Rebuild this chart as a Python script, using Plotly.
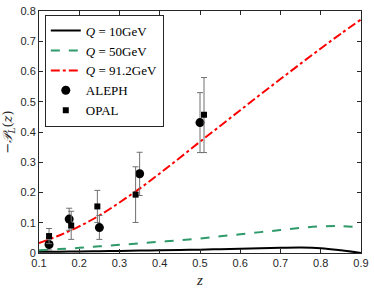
import plotly.graph_objects as go

z_curve = [0.1, 0.15, 0.2, 0.25, 0.3, 0.35, 0.4, 0.45, 0.5, 0.55, 0.6, 0.65, 0.7, 0.75, 0.8, 0.85, 0.9]
q10 = [0.004, 0.0045, 0.005, 0.006, 0.007, 0.008, 0.009, 0.010, 0.011, 0.0125, 0.014, 0.0155, 0.017, 0.018, 0.016, 0.009, 0.0]
q50 = [0.009, 0.013, 0.017, 0.022, 0.027, 0.032, 0.037, 0.042, 0.048, 0.055, 0.062, 0.069, 0.076, 0.083, 0.088, 0.089, 0.085]
q912 = [0.033, 0.058, 0.088, 0.124, 0.167, 0.213, 0.263, 0.315, 0.368, 0.420, 0.472, 0.524, 0.575, 0.626, 0.676, 0.725, 0.772]

aleph_z = [0.125, 0.175, 0.25, 0.35, 0.50]
aleph_y = [0.028, 0.112, 0.084, 0.262, 0.431]
aleph_up = [0.018, 0.036, 0.040, 0.071, 0.099]
aleph_dn = [0.018, 0.037, 0.039, 0.072, 0.099]

opal_z = [0.125, 0.18, 0.245, 0.34, 0.51]
opal_y = [0.056, 0.091, 0.154, 0.193, 0.457]
opal_up = [0.025, 0.047, 0.053, 0.092, 0.123]
opal_dn = [0.025, 0.046, 0.053, 0.092, 0.125]

x_ticks = [0.1, 0.2, 0.3, 0.4, 0.5, 0.6, 0.7, 0.8, 0.9]
x_labels = ["0.1", "0.2", "0.3", "0.4", "0.5", "0.6", "0.7", "0.8", "0.9"]
y_ticks = [0, 0.1, 0.2, 0.3, 0.4, 0.5, 0.6, 0.7, 0.8]
y_labels = ["0", "0.1", "0.2", "0.3", "0.4", "0.5", "0.6", "0.7", "0.8"]

fig = go.Figure()
fig.add_trace(go.Scatter(x=z_curve, y=q10, mode="lines", line=dict(color="black", width=2, shape="spline"),
                         name="<i>Q</i> = 10GeV"))
fig.add_trace(go.Scatter(x=z_curve, y=q50, mode="lines", line=dict(color="#2e9a6a", width=2, dash="dash", shape="spline"),
                         name="<i>Q</i> = 50GeV"))
fig.add_trace(go.Scatter(x=z_curve, y=q912, mode="lines", line=dict(color="red", width=2, dash="dashdot", shape="spline"),
                         name="<i>Q</i> = 91.2GeV"))
fig.add_trace(go.Scatter(x=aleph_z, y=aleph_y, mode="markers", name="ALEPH",
                         marker=dict(symbol="circle", size=9, color="black"),
                         error_y=dict(type="data", symmetric=False, array=aleph_up, arrayminus=aleph_dn,
                                      color="#707070", thickness=1, width=3)))
fig.add_trace(go.Scatter(x=opal_z, y=opal_y, mode="markers", name="OPAL",
                         marker=dict(symbol="square", size=6, color="black"),
                         error_y=dict(type="data", symmetric=False, array=opal_up, arrayminus=opal_dn,
                                      color="#707070", thickness=1, width=3)))

axis_common = dict(showgrid=False, zeroline=False, showline=True, linecolor="#262626", linewidth=1,
                   mirror="ticks", ticks="inside", ticklen=4, tickcolor="#262626",
                   tickfont=dict(family="Liberation Sans", size=11, color="#262626"))
fig.update_xaxes(range=[0.1, 0.9], tickvals=x_ticks, ticktext=x_labels,
                 title=dict(text="<i>z</i>", font=dict(family="Liberation Serif", size=15, color="#262626"), standoff=6),
                 **axis_common)
fig.update_yaxes(range=[0, 0.8], tickvals=y_ticks, ticktext=y_labels, ticklabeloverflow="allow",
                 title=dict(text="−<i>𝒫</i><sub><i>L</i></sub>(<i>z</i>)", font=dict(family="DejaVu Serif", size=13, color="#262626"), standoff=6),
                 **axis_common)
fig.update_layout(
    width=374, height=291,
    margin=dict(l=39, r=8, t=5, b=35),
    plot_bgcolor="white", paper_bgcolor="white",
    legend=dict(x=0.018, y=0.985, xanchor="left", yanchor="top", bgcolor="white",
                bordercolor="#262626", borderwidth=1,
                font=dict(family="Liberation Serif", size=13, color="black"),
                tracegroupgap=0, itemwidth=30),
)
fig.write_html("out.html", config={"displayModeBar": False},
               post_script="document.body.style.margin='0';document.body.style.overflow='hidden';")
